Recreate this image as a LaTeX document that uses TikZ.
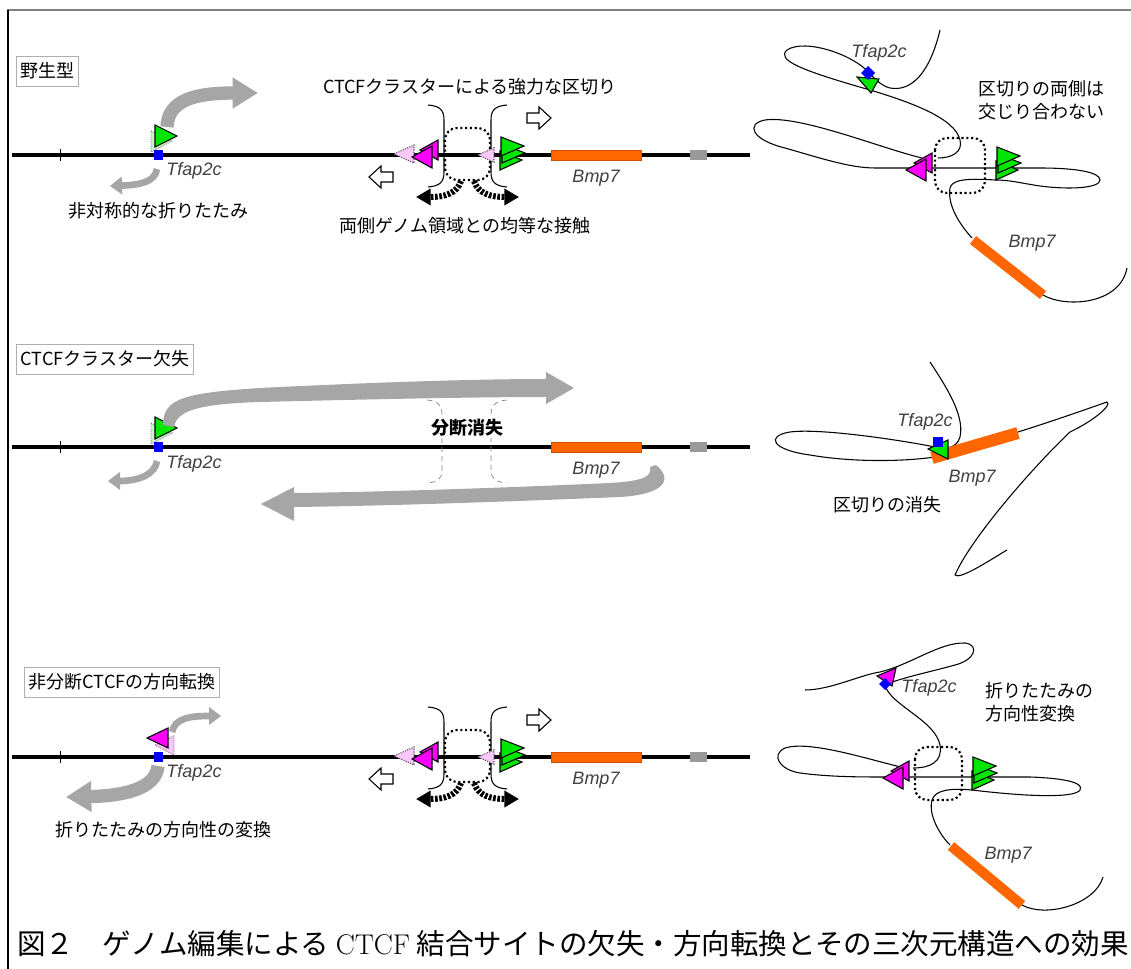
\documentclass[tikz,border=0pt]{standalone}
\usepackage{fontspec}
\newfontfamily\jp{Noto Sans CJK JP}
\newfontfamily\gene{Liberation Sans}
\usetikzlibrary{arrows.meta}
\definecolor{ctcfgreen}{RGB}{0,230,0}
\definecolor{ctcfmag}{RGB}{255,0,255}
\definecolor{ghostpink}{RGB}{250,200,250}
\definecolor{ghostgreen}{RGB}{205,240,205}
\definecolor{bmporange}{RGB}{255,102,0}
\definecolor{foldgray}{RGB}{166,166,166}
\definecolor{taggray}{RGB}{175,175,175}

\begin{document}
\begin{tikzpicture}[x=0.75pt,y=-0.75pt,
 txt/.style={font=\jp\fontsize{13.5}{17}\selectfont,inner sep=0pt},
 gname/.style={font=\gene\itshape\fontsize{13.5}{16}\selectfont,text=black!75,inner sep=0pt},
 tag/.style={draw=taggray,fill=white,font=\jp\fontsize{13.5}{16}\selectfont,inner xsep=3pt,inner ysep=5pt},
 chrom/.style={line width=3pt},
 fiber/.style={line width=0.8pt},
 gbar/.style={bmporange,line width=#1},
 ring/.style={line width=1.6pt,dotted,rounded corners=9pt},
 foldsmall/.style={foldgray,line width=5pt,-{Triangle[length=9pt,width=13pt]}},
 foldbig/.style={foldgray,line width=10pt,-{Triangle[length=19pt,width=22pt]}},
 contact/.style={line width=4.5pt,dash pattern=on 2pt off 1.2pt,-{Triangle[length=11pt,width=12pt]}},
 ghost/.pic={\filldraw[fill=ghostpink,draw=black!70,densely dotted,line width=0.8pt] (0,0)--(20,-9)--(20,9)--cycle;},
 hollow/.pic={\draw[fill=white,line width=0.8pt] (0,-5)--(12,-5)--(12,-11)--(24,0)--(12,11)--(12,5)--(0,5)--cycle;},
 fwdgroup/.pic={
  \filldraw[fill=ctcfgreen,line width=0.8pt] (0,-4)--(22,5)--(0,15)--cycle;
  \filldraw[fill=ctcfgreen,line width=0.8pt] (2,-11)--(25,-2)--(2,8)--cycle;
  \filldraw[fill=ctcfgreen,line width=0.8pt] (1,-18)--(24,-9)--(1,1)--cycle;},
 revgroup/.pic={
  \filldraw[fill=ctcfmag,line width=0.8pt] (26,-15)--(8,-5)--(26,5)--cycle;
  \filldraw[fill=ctcfmag,line width=0.8pt] (20,-9)--(0,2)--(20,13)--cycle;},
 cluster/.pic={
  \draw[line width=0.8pt] (428,105) .. controls (440,106) and (444,110) .. (444,120) -- (444,172) .. controls (444,182) and (440,186) .. (428,187);
  \draw[line width=0.8pt] (507,105) .. controls (495,106) and (491,110) .. (491,120) -- (491,172) .. controls (491,182) and (495,186) .. (507,187);
  \draw[ring] (445,128) rectangle (490,180);
  \pic at (394,154) {ghost};
  \pic[scale=0.8] at (478,155) {ghost};
  \pic at (412,155) {revgroup};
  \pic at (500,155) {fwdgroup};
  \pic at (527,118) {hollow};
  \pic[rotate=180] at (393,177) {hollow};
  \draw[contact] (461,181) .. controls (457,193) and (446,197) .. (416,197);
  \draw[contact] (474,181) .. controls (478,193) and (489,197) .. (519,197);}]
\useasboundingbox (0,0) rectangle (1131,969);
\draw[black!50,line width=1.5pt] (7,10) -- (1131,10);
\draw[line width=1pt] (8,10) -- (8,969);

\draw[chrom] (12,155) -- (750,155);
\draw[line width=0.5pt] (60,149) -- (60,161);
\filldraw[fill=ghostgreen,draw=black!60,densely dotted,line width=0.7pt] (151,131)--(172,141)--(151,152)--cycle;
\filldraw[fill=ctcfgreen,line width=0.8pt] (155,125)--(177,136)--(155,147)--cycle;
\fill[blue] (154,150) rectangle (163,160);
\draw[foldbig] (167,127) .. controls (168,100) and (195,93) .. (258,93);
\draw[foldsmall] (157,169) .. controls (155,182) and (140,185) .. (110,186);
\pic at (0,0) {cluster};
\filldraw[fill=bmporange,draw=bmporange!80!black,line width=0.4pt] (551,150) rectangle (641,160);
\fill[black!40] (690,150) rectangle (707,160);
\node[tag] (wt) at (47,71) {野生型};
\node[gname] (wttfap) at (194,171) {Tfap2c};
\node[txt] (wtasym) at (158,211) {非対称的な折りたたみ};
\node[txt] (wtbarrier) at (470,87) {CTCFクラスターによる強力な区切り};
\node[txt] (wtcontact) at (465,226) {両側ゲノム領域との均等な接触};
\node[gname] (wtbmp) at (596,178) {Bmp7};

\draw[fiber] (940,30) .. controls (930,72) and (912,92) .. (890,88) .. controls (882,86) and (876,80) .. (870,74) .. controls (855,55) and (805,38) .. (787,50) .. controls (776,60) and (800,70) .. (870,90) .. controls (910,102) and (955,118) .. (960,140) .. controls (963,152) and (952,158) .. (938,158);
\draw[fiber] (922,158) .. controls (880,148) and (800,115) .. (765,120) .. controls (745,124) and (752,140) .. (785,148) .. controls (820,158) and (850,168) .. (875,168) -- (1040,168) .. controls (1075,168) and (1100,172) .. (1100,180) .. controls (1100,188) and (1070,190) .. (1040,186) .. controls (1020,183) and (1010,180) .. (995,180) .. controls (965,178) and (952,180) .. (950,188) .. controls (947,205) and (960,225) .. (972,238);
\draw[gbar=7.5pt] (973,240) -- (1043,295);
\draw[fiber] (1043,295) .. controls (1065,308) and (1120,305) .. (1127,268);
\draw[ring] (935,138) rectangle (985,193);
\pic at (906,168) {revgroup};
\pic at (996,165) {fwdgroup};
\filldraw[fill=ctcfgreen,line width=0.8pt] (857,77)--(879,79)--(871,93)--cycle;
\fill[blue] (868,66)--(875,73)--(868,80)--(861,73)--cycle;
\node[gname] (wttfap3d) at (879,53) {Tfap2c};
\node[gname] (wtbmp3d) at (1032,243) {Bmp7};
\node[txt,align=left] (wtnote) at (1041,100) {区切りの両側は\\交じり合わない};

\draw[chrom] (12,447) -- (750,447);
\draw[line width=0.5pt] (60,441) -- (60,453);
\draw[black!50,dash pattern=on 4pt off 3pt,line width=0.5pt] (427,400) .. controls (438,401) and (442,405) .. (442,415) -- (442,470) .. controls (442,479) and (438,482) .. (427,483);
\draw[black!50,dash pattern=on 4pt off 3pt,line width=0.5pt] (507,400) .. controls (496,401) and (491,405) .. (491,415) -- (491,470) .. controls (491,479) and (496,482) .. (507,483);
\filldraw[fill=ghostgreen,draw=black!60,densely dotted,line width=0.7pt] (151,423)--(172,433)--(151,444)--cycle;
\filldraw[fill=ctcfgreen,line width=0.8pt] (155,417)--(177,428)--(155,439)--cycle;
\fill[blue] (154,442) rectangle (163,452);
\fill[foldgray] (163,425) .. controls (163,398) and (185,393) .. (260,388) .. controls (380,382) and (480,379) .. (546,379) -- (546,372) -- (574,388) -- (546,404) -- (546,397) .. controls (480,397) and (380,399) .. (260,402) .. controls (200,404) and (177,410) .. (174,427) -- cycle;
\fill[foldgray] (656,465) .. controls (672,478) and (668,494) .. (620,497) .. controls (500,502) and (380,506) .. (294,507) -- (294,521) -- (261,504) -- (294,487) -- (294,493) .. controls (380,492) and (500,488) .. (610,483) .. controls (645,481) and (652,476) .. (650,467) -- cycle;
\draw[foldsmall] (157,461) .. controls (155,474) and (140,481) .. (108,481);
\filldraw[fill=bmporange,draw=bmporange!80!black,line width=0.4pt] (551,442) rectangle (641,452);
\fill[black!40] (690,442) rectangle (707,452);
\node[tag] (del) at (105,359) {CTCFクラスター欠失};
\node[gname] (deltfap) at (194,464) {Tfap2c};
\node[txt,font=\jp\bfseries\fontsize{13.5}{17}\selectfont,fill=white,inner sep=1pt] (delloss) at (467,428) {分断消失};
\node[gname] (delbmp) at (596,470) {Bmp7};

\draw[fiber] (930,362) .. controls (945,385) and (965,415) .. (960,437) .. controls (958,443) and (955,446) .. (950,447);
\draw[fiber] (935,447) .. controls (900,440) and (820,428) .. (790,432) .. controls (765,436) and (772,450) .. (810,455) .. controls (850,462) and (900,462) .. (935,457);
\draw[fiber] (1018,432) .. controls (1050,422) and (1090,408) .. (1107,402) .. controls (1112,405) and (1095,420) .. (1070,432) .. controls (1030,470) and (970,540) .. (955,575) .. controls (960,580) and (990,560) .. (1007,550);
\draw[gbar=9pt] (932,458) -- (1018,433);
\filldraw[fill=ctcfgreen,line width=0.8pt] (928,449)--(948,440)--(948,459)--cycle;
\fill[blue] (933,437) rectangle (943,447);
\node[gname] (deltfap3d) at (925,422) {Tfap2c};
\node[gname] (delbmp3d) at (972,478) {Bmp7};
\node[txt] (delnote) at (887,505) {区切りの消失};

\draw[chrom] (12,757) -- (750,757);
\draw[line width=0.5pt] (60,751) -- (60,763);
\filldraw[fill=ghostpink,draw=black!60,densely dotted,line width=0.7pt] (155,745)--(174,736)--(174,755)--cycle;
\filldraw[fill=ctcfmag,line width=0.8pt] (147,738)--(168,728)--(168,748)--cycle;
\fill[blue] (154,752) rectangle (163,762);
\draw[foldsmall] (172,732) .. controls (175,718) and (190,716) .. (221,716);
\draw[foldbig] (158,766) .. controls (156,790) and (120,796) .. (66,797);
\pic at (0,602) {cluster};
\filldraw[fill=bmporange,draw=bmporange!80!black,line width=0.4pt] (551,752) rectangle (641,762);
\fill[black!40] (690,752) rectangle (707,762);
\node[tag] (inv) at (122,682) {非分断CTCFの方向転換};
\node[gname] (invtfap) at (194,773) {Tfap2c};
\node[txt] (invfold) at (163,830) {折りたたみの方向性の変換};
\node[gname] (invbmp) at (596,780) {Bmp7};

\draw[fiber] (805,690) .. controls (830,690) and (860,675) .. (880,672) .. controls (910,665) and (940,642) .. (965,643) .. controls (980,645) and (975,660) .. (955,665) .. controls (930,672) and (900,678) .. (885,685) .. controls (890,705) and (935,720) .. (940,745) .. controls (943,762) and (930,768) .. (913,768);
\draw[fiber] (905,768) .. controls (870,760) and (810,740) .. (785,748) .. controls (770,755) and (780,770) .. (800,773) .. controls (830,777) and (860,777) .. (887,777) -- (1030,777) .. controls (1060,778) and (1085,782) .. (1080,790) .. controls (1075,798) and (1030,797) .. (972,790) .. controls (950,788) and (935,790) .. (932,800) .. controls (928,815) and (940,835) .. (950,845);
\draw[gbar=7.5pt] (951,846) -- (1022,905);
\draw[fiber] (1022,905) .. controls (1045,918) and (1095,905) .. (1103,877);
\draw[ring] (915,747) rectangle (962,800);
\pic at (883,776) {revgroup};
\pic at (972,775) {fwdgroup};
\filldraw[fill=ctcfmag,line width=0.8pt] (877,676)--(896,668)--(892,686)--cycle;
\fill[blue] (885,678)--(891,684)--(885,690)--(879,684)--cycle;
\node[gname] (invtfap3d) at (929,688) {Tfap2c};
\node[gname] (invbmp3d) at (1008,855) {Bmp7};
\node[txt,align=left] (invnote) at (1039,702) {折りたたみの\\方向性変換};

\node[anchor=west,inner sep=0pt,font=\jp\fontsize{21.4}{24}\selectfont] (cap) at (17,944) {図２　ゲノム編集による {\rmfamily CTCF} 結合サイトの欠失・方向転換とその三次元構造への効果};
\end{tikzpicture}
\end{document}
